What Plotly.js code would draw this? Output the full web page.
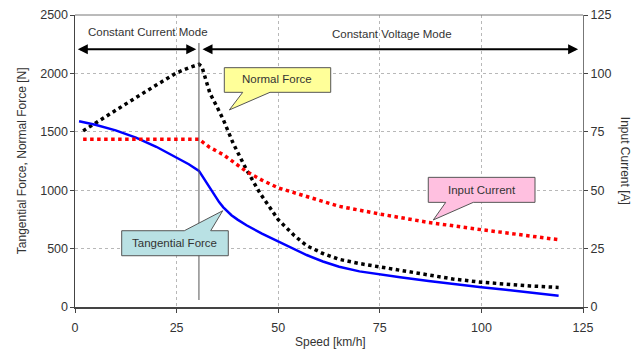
<!DOCTYPE html>
<html>
<head>
<meta charset="utf-8">
<script src="https://cdn.plot.ly/plotly-3.0.1.min.js"></script>
<style>html,body{margin:0;padding:0;background:#fff;}#chart{width:641px;height:354px;}</style>
</head>
<body>
<div id="chart"></div>
<script>
// Tangential force [N]
const speedTangential = [1, 5, 10, 15, 20, 25, 28, 30.5, 31.5, 32.5, 33.5, 34.5, 35.5, 36.5, 37.5, 38.5, 40, 42.2, 46, 50, 54, 57, 61, 65, 70, 75, 80, 87, 93, 100, 106, 112, 119];
const tangentialForce = [1590, 1560, 1512, 1450, 1372, 1278, 1222, 1165, 1112, 1055, 998, 945, 896, 853, 816, 786, 748, 700, 628, 560, 495, 445, 390, 345, 305, 278, 255, 222, 195, 170, 148, 125, 97];
// Normal force [N]
const speedNormal = [2, 5, 10, 15, 20, 25, 28, 30.5, 31.2, 33.2, 34.9, 36.5, 38.9, 42.2, 45.5, 50, 54, 57, 61, 65, 70, 75, 80, 87, 93, 100, 106, 112, 119];
const normalForce = [1508, 1575, 1685, 1793, 1900, 2005, 2048, 2078, 2060, 1830, 1716, 1603, 1403, 1175, 976, 748, 610, 525, 458, 408, 372, 344, 315, 272, 240, 212, 195, 180, 168];
// Input current [A]
const speedCurrent = [2, 10, 20, 30.5, 33, 36.5, 42.2, 46, 50, 57, 65, 75, 87, 100, 110, 119];
const inputCurrent = [71.8, 71.8, 71.8, 71.8, 68.5, 65.2, 58, 54.3, 51, 47.4, 43.1, 39.8, 36.2, 33.1, 30.8, 28.8];

const xTicks = [0, 25, 50, 75, 100, 125];
const yTicks = [0, 500, 1000, 1500, 2000, 2500];
const y2Ticks = [0, 25, 50, 75, 100, 125];

const FONT = 'Arial, "Liberation Sans", sans-serif';
const TICKFONT = {family: FONT, size: 12.5, color: '#333333'};

const traces = [
  {x: speedNormal, y: normalForce, type: 'scatter', mode: 'lines',
   line: {color: '#000000', width: 3.5, dash: 'dot'}, yaxis: 'y'},
  {x: speedCurrent, y: inputCurrent, type: 'scatter', mode: 'lines',
   line: {color: '#ff0000', width: 3.5, dash: 'dot'}, yaxis: 'y2'},
  {x: speedTangential, y: tangentialForce, type: 'scatter', mode: 'lines',
   line: {color: '#0000ff', width: 2.5}, yaxis: 'y'}
];

const shapes = [
  {type: 'line', xref: 'x', yref: 'y', x0: 30.5, x1: 30.5, y0: 60, y1: 2260,
   line: {color: '#555555', width: 1}, layer: 'above'},
  {type: 'path', xref: 'x', yref: 'y', layer: 'above',
   path: 'M 36.74,2049 L 62.92,2049 L 62.92,1838 L 47.98,1838 L 37.97,1687 L 41.27,1838 L 36.74,1838 Z',
   fillcolor: '#ffff99', line: {color: '#555555', width: 1}},
  {type: 'path', xref: 'x', yref: 'y', layer: 'above',
   path: 'M 11.49,653 L 26.9,653 L 36.34,824 L 33.39,653 L 37.72,653 L 37.72,439 L 11.49,439 Z',
   fillcolor: '#b9e1e4', line: {color: '#555555', width: 1}},
  {type: 'path', xref: 'x', yref: 'y', layer: 'above',
   path: 'M 86.93,1110 L 113.19,1110 L 113.19,896 L 98.0,896 L 88.16,745 L 91.22,896 L 86.93,896 Z',
   fillcolor: '#ffc0e0', line: {color: '#555555', width: 1}},
  {type: 'line', xref: 'paper', yref: 'paper', x0: 0, x1: 1, y0: 1, y1: 1, line: {color: '#777777', width: 1}}
];

const annFont = {family: FONT, size: 11.5, color: '#333333'};
const titleFont = {family: FONT, size: 12, color: '#333333'};
const annotations = [
  {xref: 'x', yref: 'y', x: 17.96, y: 2354, text: 'Constant Current Mode', showarrow: false, font: annFont},
  {xref: 'x', yref: 'y', x: 78, y: 2337, text: 'Constant Voltage Mode', showarrow: false, font: annFont},
  {xref: 'x', yref: 'y', axref: 'x', ayref: 'y', x: 0.7, y: 2207, ax: 30.2, ay: 2207, text: '',
   showarrow: true, arrowhead: 2, startarrowhead: 2, arrowside: 'end+start', arrowwidth: 2, arrowsize: 1, arrowcolor: '#000000'},
  {xref: 'x', yref: 'y', axref: 'x', ayref: 'y', x: 123.8, y: 2207, ax: 31, ay: 2207, text: '',
   showarrow: true, arrowhead: 2, startarrowhead: 2, arrowside: 'end+start', arrowwidth: 2, arrowsize: 1, arrowcolor: '#000000'},
  {xref: 'x', yref: 'y', x: 49.8, y: 1950, text: 'Normal Force', showarrow: false, font: annFont},
  {xref: 'x', yref: 'y', x: 24.6, y: 545, text: 'Tangential Force', showarrow: false, font: annFont},
  {xref: 'x', yref: 'y', x: 100.1, y: 1005, text: 'Input Current', showarrow: false, font: annFont},
  {xref: 'paper', yref: 'paper', x: -0.104, y: 0.5, xanchor: 'center', yanchor: 'middle', textangle: -90,
   text: 'Tangential Force, Normal Force [N]', showarrow: false, font: titleFont},
  {xref: 'paper', yref: 'paper', x: 1.083, y: 0.5, xanchor: 'center', yanchor: 'middle', textangle: 90,
   text: 'Input Current [A]', showarrow: false, font: titleFont},
  {xref: 'paper', yref: 'paper', x: 0.502, y: -0.12, xanchor: 'center', yanchor: 'middle',
   text: 'Speed [km/h]', showarrow: false, font: titleFont}
];

const layout = {
  width: 641, height: 354,
  margin: {l: 75, r: 58, t: 15, b: 47, pad: 0},
  paper_bgcolor: '#ffffff', plot_bgcolor: '#ffffff',
  showlegend: false,
  font: {family: FONT, size: 12, color: '#333333'},
  xaxis: {
    range: [0, 125], tickvals: xTicks, ticktext: xTicks.map(String),
    showgrid: true, gridcolor: '#b8b8b8', griddash: 'dot', gridwidth: 1,
    zeroline: false, showline: true, linecolor: '#444444', linewidth: 1.5,
    ticks: 'outside', ticklen: 4, tickcolor: '#444444', ticklabelstandoff: 4,
    tickfont: TICKFONT
  },
  yaxis: {
    range: [0, 2500], tickvals: yTicks, ticktext: yTicks.map(String),
    showgrid: true, gridcolor: '#b8b8b8', griddash: 'dot', gridwidth: 1,
    zeroline: false, showline: true, linecolor: '#444444', linewidth: 1.5,
    ticks: 'outside', ticklen: 4, tickcolor: '#444444', ticklabelstandoff: -1,
    tickfont: TICKFONT
  },
  yaxis2: {
    overlaying: 'y', side: 'right', range: [0, 125], tickvals: y2Ticks, ticktext: y2Ticks.map(String),
    showgrid: false, zeroline: false, showline: true, linecolor: '#777777', linewidth: 1,
    ticks: 'outside', ticklen: 4, tickcolor: '#444444',
    tickfont: TICKFONT
  },
  shapes: shapes,
  annotations: annotations
};

Plotly.newPlot('chart', traces, layout, {staticPlot: true, displayModeBar: false});
</script>
</body>
</html>
